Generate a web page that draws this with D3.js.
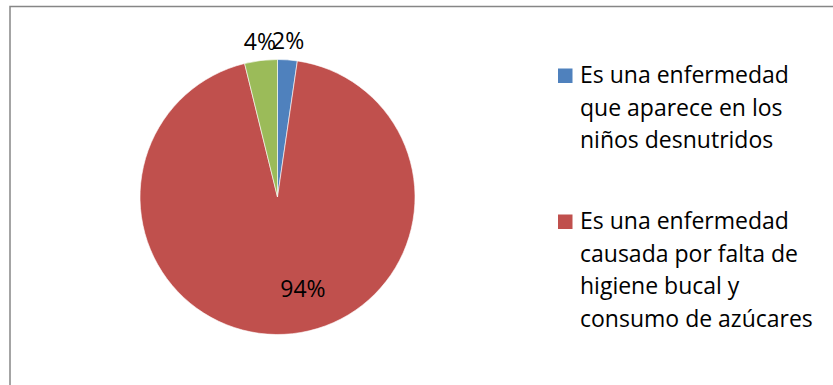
<!DOCTYPE html>
<html>
<head>
<meta charset="utf-8">
<script src="https://cdn.jsdelivr.net/npm/d3@7"></script>
<style>
  html, body { margin: 0; padding: 0; background: #fff; }
  #outer { width: 833px; height: 385px; overflow: hidden; }
</style>
</head>
<body>
<div id="outer"></div>
<script>
////////// DATA //////////
const categories = [
  'Es una enfermedad que aparece en los niños desnutridos',
  'Es una enfermedad causada por falta de higiene bucal y consumo de azúcares',
  'Otra respuesta'
];
// counts (labels show rounded shares)
const counts = [3, 122, 5];
const legendLines = [
  ['Es una enfermedad', 'que aparece en los', 'niños desnutridos'],
  ['Es una enfermedad', 'causada por falta de', 'higiene bucal y', 'consumo de azúcares'],
  ['Otra respuesta']
];
const sliceColors = ['#4F81BD', '#C0504D', '#9BBB59'];
// which slices get their label outside the pie
const outsideLabel = [true, false, true];

////////// LAYOUT //////////
const width = 833, height = 385;
const cx = 277.5, cy = 197, radius = 137.5;
const font = '"Open Sans", "Liberation Sans", sans-serif';
const fontSize = 23;

const svg = d3.select('#outer').append('svg')
  .attr('width', width)
  .attr('height', height);

// chart frame (runs off the right and bottom edge like the source)
svg.append('rect')
  .attr('x', 10).attr('y', 6.5)
  .attr('width', width + 50).attr('height', height + 50)
  .attr('fill', '#fff')
  .attr('stroke', '#868686')
  .attr('stroke-width', 1.5);

const total = d3.sum(counts);
const data = counts.map((v, i) => ({ name: categories[i], value: v, i }));

const pie = d3.pie().sort(null).value(d => d.value);
const arcs = pie(data);

const arcGen = d3.arc().innerRadius(0).outerRadius(radius);
const outerLabelArc = d3.arc().innerRadius(radius + 8.5).outerRadius(radius + 8.5);
const innerLabelArc = d3.arc().innerRadius(92).outerRadius(92);

const pieGroup = svg.append('g')
  .attr('transform', `translate(${cx}, ${cy})`);

pieGroup.selectAll('path.slice')
  .data(arcs)
  .join('path')
  .attr('class', 'slice')
  .attr('d', arcGen)
  .attr('fill', d => sliceColors[d.data.i])
  .attr('stroke', '#fff')
  .attr('stroke-width', 0.6);

const pct = d3.format('.0%');

// data labels
pieGroup.selectAll('text.lbl')
  .data(arcs)
  .join('text')
  .attr('class', 'lbl')
  .attr('text-anchor', 'middle')
  .attr('x', d => outsideLabel[d.data.i] ? outerLabelArc.centroid(d)[0] : innerLabelArc.centroid(d)[0] + 21)
  .attr('y', d => outsideLabel[d.data.i] ? outerLabelArc.centroid(d)[1] - 2.5 : innerLabelArc.centroid(d)[1] + 8)
  .style('font-family', font)
  .style('font-size', fontSize + 'px')
  .attr('fill', '#000')
  .text(d => pct(d.data.value / total));

////////// LEGEND //////////
// only the first two entries fit in the box; the third is cut off as in the source
const legendX = 558, textX = 580, lineH = 32.7;
const legendStart = [83, 229];

const legend = svg.append('g').attr('class', 'legend');

legendStart.forEach((baseY, i) => {
  const g = legend.append('g');
  g.append('rect')
    .attr('x', legendX)
    .attr('y', baseY - 14.5)
    .attr('width', 14.5)
    .attr('height', 14.5)
    .attr('fill', sliceColors[i]);
  g.selectAll('text')
    .data(legendLines[i])
    .join('text')
    .attr('x', textX)
    .attr('y', (d, j) => baseY + j * lineH)
    .style('font-family', font)
    .style('font-size', fontSize + 'px')
    .attr('fill', '#000')
    .text(d => d);
});
</script>
</body>
</html>
